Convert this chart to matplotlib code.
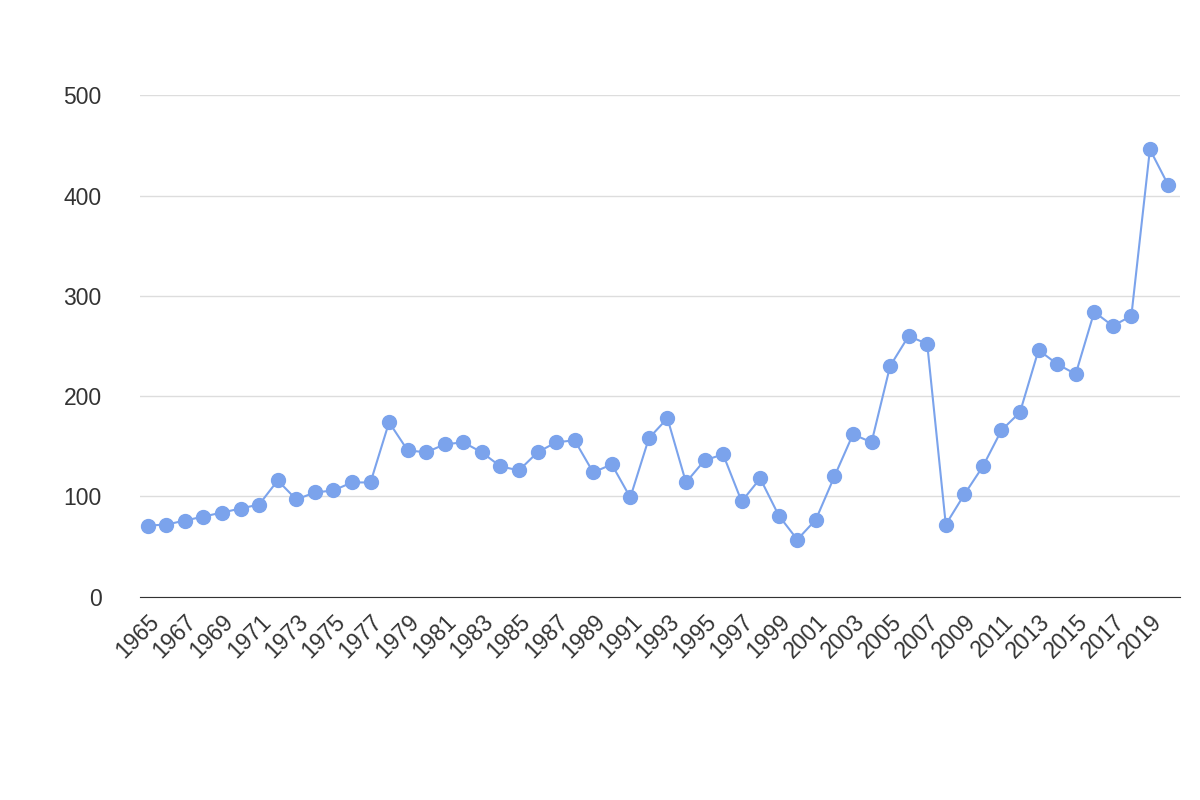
import matplotlib
matplotlib.use("Agg")
import matplotlib.pyplot as plt

years = list(range(1965, 2021))
values = [71, 72, 76, 80, 84, 88, 92, 116, 97, 104, 106, 114, 114, 174, 146, 144,
          152, 154, 144, 130, 126, 144, 154, 156, 124, 132, 99, 158, 178, 114,
          136, 142, 95, 118, 81, 57, 77, 120, 162, 154, 230, 260, 252, 72, 102,
          130, 166, 184, 246, 232, 222, 284, 270, 280, 446, 410]
yticks = [0, 100, 200, 300, 400, 500]

plt.rcParams['font.family'] = ['Liberation Sans', 'DejaVu Sans']
fig = plt.figure(figsize=(12, 8), dpi=100)
ax = fig.add_axes([0.117, 0.254, 0.866, 0.627])
color = '#7ba3ec'
ax.plot(years, values, color=color, lw=1.5, marker='o', ms=10, clip_on=False, zorder=3)
ax.set_xlim(1964.6, 2020.6)
ax.set_ylim(0, 500)
ax.set_yticks(yticks)
ax.set_xticks(years[::2])
ax.set_xticklabels([str(y) for y in years[::2]], rotation=45, ha='right', rotation_mode='anchor')
ax.tick_params(axis='both', length=0, labelsize=16.5, colors='#333333')
ax.tick_params(axis='y', pad=28)
ax.tick_params(axis='x', pad=10)
ax.grid(axis='y', color='#dddddd', lw=1)
for s in ['top', 'right', 'left']:
    ax.spines[s].set_visible(False)
ax.spines['bottom'].set_color('#333333')
ax.set_axisbelow(True)
fig.savefig('out.png')
